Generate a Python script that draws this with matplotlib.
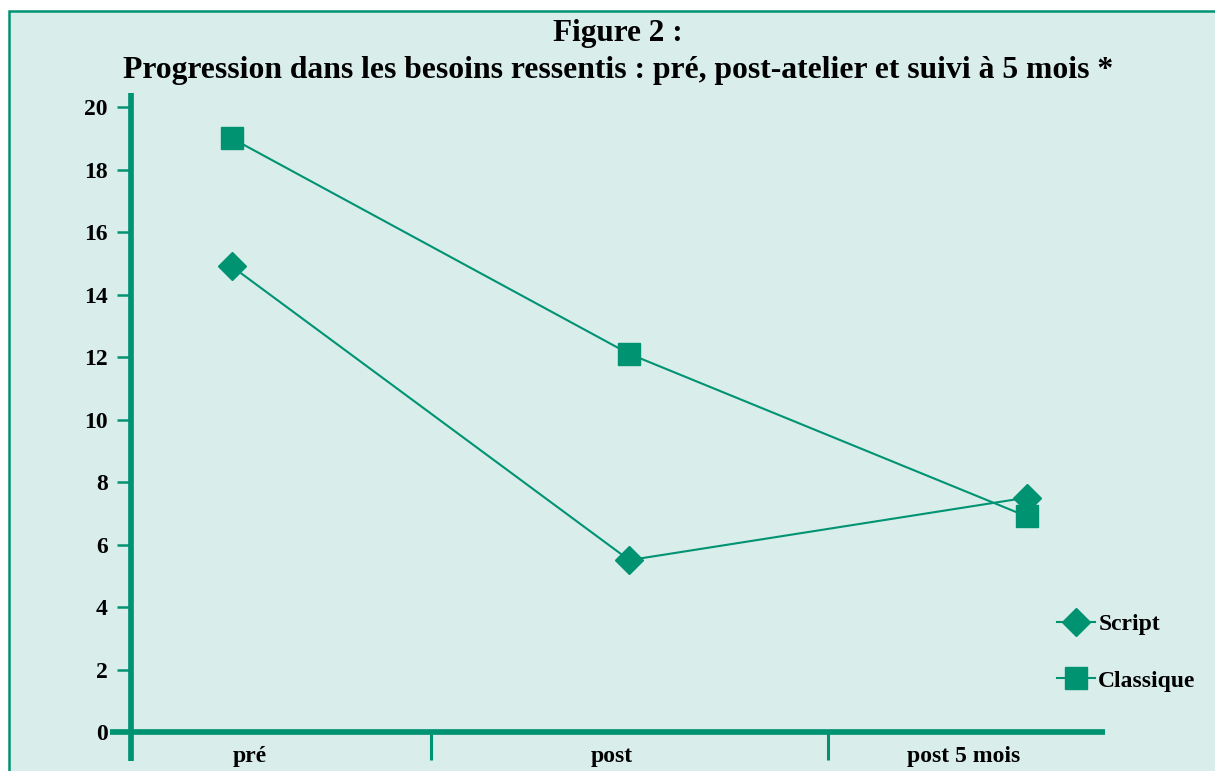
import matplotlib
matplotlib.use("Agg")
import matplotlib.pyplot as plt
from matplotlib.patches import Rectangle
from matplotlib.lines import Line2D
from matplotlib.transforms import blended_transform_factory, ScaledTranslation

# data
categories = ["pré", "post", "post 5 mois"]
script = [14.9, 5.5, 7.5]
classique = [19.0, 12.1, 6.9]
y_ticks = list(range(0, 21, 2))

title_1 = "Figure 2 :"
title_2 = "Progression dans les besoins ressentis : pré, post-atelier et suivi à 5 mois *"

GREEN = "#009372"
MINT = "#d9edea"
W, H = 1215, 771

plt.rcParams['font.family'] = ['Liberation Serif', 'DejaVu Serif']
plt.rcParams['font.weight'] = 'bold'

fig = plt.figure(figsize=(W / 100, H / 100), dpi=100)
fig.patch.set_facecolor("white")
# framed mint background, cut off at right and bottom like the scan
fig.patches.append(Rectangle((9 / W, -0.1), 1.2, 1.1 - 11 / H,
                             transform=fig.transFigure, facecolor=MINT,
                             edgecolor=GREEN, lw=1.8, zorder=-10))

ax = fig.add_axes([131 / W, 1 - 732 / H, (1105 - 131) / W, (732 - 93) / H])
ax.set_facecolor("none")

x = range(len(categories))
ax.plot(x, classique, color=GREEN, lw=1.5, marker='s', ms=16, label="Classique")
ax.plot(x, script, color=GREEN, lw=1.5, marker='D', ms=14, label="Script")

ax.set_xlim(-0.2536, 2.1967)
ax.set_ylim(0, 20.45)
for s in ax.spines.values():
    s.set_visible(False)

# axis lines drawn by hand so they can overshoot
ax.add_line(Line2D([0, 0], [-(761 - 732) / 639, 1], transform=ax.transAxes,
                   color=GREEN, lw=4.1, solid_capstyle='butt', clip_on=False))
ax.add_line(Line2D([(110 - 131) / 974, 1], [0, 0], transform=ax.transAxes,
                   color=GREEN, lw=4.1, solid_capstyle='butt', clip_on=False))

ax.set_yticks(y_ticks)
ax.tick_params(axis='y', direction='out', length=10, width=1.8, color=GREEN,
               pad=6.7, labelsize=17)
ax.set_xticks([])
ax.set_xticks([0.5, 1.5], minor=True)
ax.tick_params(axis='x', which='minor', direction='out', length=20, width=2.2,
               color=GREEN)

# category labels, nudged to where the original prints them
label_nudge_px = [17.7, -17.3, -62.8]
blend = blended_transform_factory(ax.transData, ax.transAxes)
for i, (lab, dx) in enumerate(zip(categories, label_nudge_px)):
    ax.text(i, -(762 - 732) / 639, lab, ha='center', va='baseline', fontsize=17,
            transform=blend + ScaledTranslation(dx / 100, 0, fig.dpi_scale_trans))

h, l = ax.get_legend_handles_labels()
fig.legend(h[::-1], l[::-1], loc='center left',
           bbox_to_anchor=(1057 / W, 1 - 652.5 / H), frameon=False,
           fontsize=17, handlelength=1.6, handletextpad=0.15,
           labelspacing=1.5, borderpad=0, borderaxespad=0)

fig.text(618 / W, 1 - 41 / H, title_1, ha='center', va='baseline', fontsize=22.5)
fig.text(618 / W, 1 - 78 / H, title_2, ha='center', va='baseline', fontsize=22.8)

fig.savefig("out.png", dpi=100)
